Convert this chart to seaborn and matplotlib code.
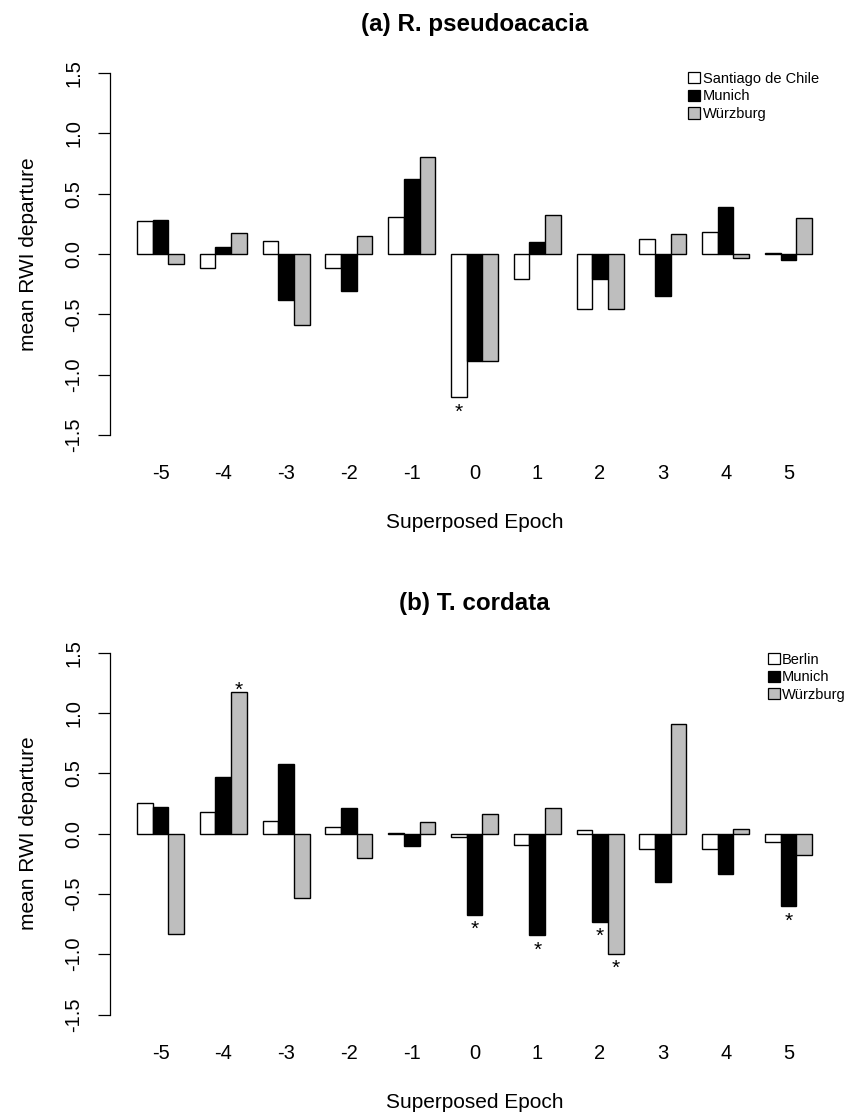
import matplotlib
matplotlib.use('Agg')
import matplotlib.pyplot as plt
import numpy as np
import pandas as pd
import seaborn as sns
from matplotlib.patches import Patch

EPOCHS = [-5, -4, -3, -2, -1, 0, 1, 2, 3, 4, 5]
COLORS = ['white', 'black', '#bebebe']

# (a) R. pseudoacacia
RP_CITIES = ['Santiago de Chile', 'Munich', 'Würzburg']
RP_SANTIAGO = [0.27, -0.12, 0.11, -0.12, 0.31, -1.19, -0.21, -0.46, 0.12, 0.18, 0.004]
RP_MUNICH = [0.285, 0.055, -0.38, -0.31, 0.62, -0.89, 0.10, -0.21, -0.35, 0.39, -0.047]
RP_WURZBURG = [-0.083, 0.17, -0.59, 0.15, 0.80, -0.89, 0.32, -0.46, 0.166, -0.036, 0.296]
RP_SIG = [(0, 'Santiago de Chile')]

# (b) T. cordata
TC_CITIES = ['Berlin', 'Munich', 'Würzburg']
TC_BERLIN = [0.252, 0.177, 0.108, 0.058, 0.004, -0.028, -0.097, 0.028, -0.125, -0.125, -0.069]
TC_MUNICH = [0.221, 0.468, 0.576, 0.21, -0.102, -0.675, -0.844, -0.733, -0.404, -0.338, -0.603]
TC_WURZBURG = [-0.836, 1.174, -0.531, -0.2, 0.094, 0.163, 0.21, -0.999, 0.913, 0.039, -0.174]
TC_SIG = [(-4, 'Würzburg'), (0, 'Munich'), (1, 'Munich'), (2, 'Munich'), (2, 'Würzburg'), (5, 'Munich')]


def to_long(cities, series):
    rows = []
    for city, vals in zip(cities, series):
        for ep, v in zip(EPOCHS, vals):
            rows.append({'epoch': str(ep), 'city': city, 'value': v})
    return pd.DataFrame(rows)


def draw_panel(ax, title, cities, series, sig, leg_anchor):
    df = to_long(cities, series)
    order = [str(e) for e in EPOCHS]
    sns.barplot(data=df, x='epoch', y='value', hue='city', order=order, hue_order=cities,
                palette=COLORS, saturation=1, width=0.75, gap=0, errorbar=None,
                edgecolor='black', linewidth=1.0, legend=False, ax=ax)

    # significance stars
    for ep, city in sig:
        bar = ax.containers[cities.index(city)][EPOCHS.index(ep)]
        v = series[cities.index(city)][EPOCHS.index(ep)]
        x = bar.get_x() + bar.get_width() / 2
        y = v - 0.12 if v < 0 else v + 0.01
        ax.text(x, y, '*', ha='center', va='center', fontsize=15, color='black')

    ax.set_xlim(-0.805, 10.805)
    ax.set_ylim(-1.62, 1.62)
    yt = np.arange(-1.5, 1.51, 0.5)
    ax.set_yticks(yt)
    ax.set_yticklabels(['%.1f' % t for t in yt], rotation=90, va='center', ha='center')
    ax.tick_params(axis='y', left=True, length=8.6, width=0.9, pad=17.5, labelsize=14.5,
                   color='black', labelcolor='black')
    ax.tick_params(axis='x', bottom=False, length=0, pad=10.5, labelsize=14.5, labelcolor='black')

    for side in ['top', 'right', 'bottom']:
        ax.spines[side].set_visible(False)
    ax.spines['left'].set_bounds(-1.5, 1.5)
    ax.spines['left'].set_linewidth(0.9)
    ax.spines['left'].set_color('black')

    ax.set_xlabel('Superposed Epoch', fontsize=15, labelpad=22, color='black')
    ax.set_ylabel('mean RWI departure', fontsize=15, labelpad=19, color='black')
    ax.set_title(title, fontsize=17.4, fontweight='bold', pad=20, color='black')

    handles = [Patch(facecolor=c, edgecolor='black', lw=0.9) for c in COLORS]
    ax.legend(handles, cities, loc='upper left', bbox_to_anchor=leg_anchor, frameon=False,
              fontsize=10.5, handlelength=0.85, handleheight=0.8, handletextpad=0.15,
              labelspacing=0.25, borderpad=0, borderaxespad=0, labelcolor='black')


def main():
    sns.set_theme(style='white')
    plt.rcParams['font.family'] = ['Liberation Sans', 'DejaVu Sans']
    plt.rcParams['axes.unicode_minus'] = False
    plt.rcParams['text.color'] = 'black'

    fig = plt.figure(figsize=(8.46, 11.15), dpi=100)
    ax_a = fig.add_axes([0.1300, 0.5970, 0.8617, 0.3505])
    ax_b = fig.add_axes([0.1300, 0.0771, 0.8617, 0.3505])

    draw_panel(ax_a, '(a) R. pseudoacacia', RP_CITIES,
               [RP_SANTIAGO, RP_MUNICH, RP_WURZBURG], RP_SIG, (0.793, 0.966))
    draw_panel(ax_b, '(b) T. cordata', TC_CITIES,
               [TC_BERLIN, TC_MUNICH, TC_WURZBURG], TC_SIG, (0.902, 0.963))

    fig.savefig('out.png', dpi=100, facecolor='white')


if __name__ == "__main__":
    main()
